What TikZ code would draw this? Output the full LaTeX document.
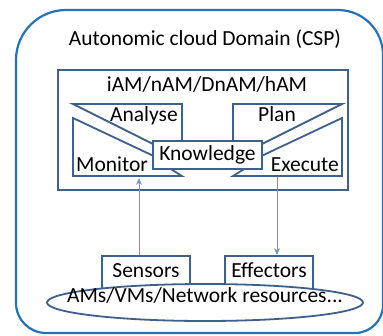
\documentclass[tikz,border=0pt]{standalone}
\usepackage{fontspec}
\setmainfont{Carlito}
\usetikzlibrary{arrows.meta,shapes.geometric}
\definecolor{domainblue}{HTML}{2473BA}
\definecolor{frameblue}{HTML}{3F5F8C}
\definecolor{linkblue}{HTML}{7196CA}
\tikzset{
  frame/.style={draw=frameblue, line width=1.8pt, line join=miter},
  mapek/.style={frame, fill=white},
  lbl/.style={inner sep=0pt, anchor=base, text=black},
  boxnode/.style={frame, fill=white, inner sep=0pt},
  link/.style={draw=linkblue, line width=1pt, -{Stealth[length=7pt,width=6pt]}}
}
\begin{document}
\begin{tikzpicture}[x=1pt,y=-1pt,font=\fontsize{21.5}{25}\selectfont]
\useasboundingbox (0,0) rectangle (383,335);

% autonomic cloud domain (y grows downwards, so the arcs turn the other way)
\draw[domainblue, line width=2.2pt]
  (16,60) arc[start angle=180, end angle=270, radius=50] -- (338,10)
  arc[start angle=270, end angle=360, radius=45] -- (383,305)
  arc[start angle=0, end angle=90, radius=28] -- (46,333)
  arc[start angle=90, end angle=180, radius=30] -- cycle;
\node[lbl] (title) at (205,45) {Autonomic cloud Domain (CSP)};

% autonomic manager frame
\draw[frame] (58,70) rectangle (348,190);
\node[lbl] (am) at (207,91) {iAM/nAM/DnAM/hAM};

% MAPE phases
\draw[mapek] (73,104) -- (182,104) -- (182,150) -- (165,150) -- cycle;
\draw[mapek] (73,118) -- (73,176) -- (182,176) -- (166,166) -- (160,159) -- cycle;
\draw[mapek] (342,104) -- (233,104) -- (233,150) -- (250,150) -- cycle;
\draw[mapek] (342,118) -- (342,176) -- (233,176) -- (249,166) -- (255,159) -- cycle;

\node[lbl, anchor=base east] (analyse) at (178,121) {Analyse};
\node[lbl] (plan) at (277,121) {Plan};
\node[lbl, anchor=base west] (monitor) at (76,171) {Monitor};
\node[lbl, anchor=base east] (execute) at (339,171) {Execute};

\node[boxnode, minimum width=109pt, minimum height=28pt] (knowledge) at (207.5,155) {Knowledge};

% sensors, effectors and managed resources
\node[boxnode, minimum width=88pt, minimum height=34pt] (sensors) at (146,273) {};
\node[boxnode, minimum width=88pt, minimum height=34pt] (effectors) at (269,273) {};
\node[lbl] (sensorstxt) at (146,277) {Sensors};
\node[lbl] (effectorstxt) at (269,277) {Effectors};

\node[ellipse, frame, fill=white, minimum width=316pt, minimum height=37pt, inner sep=0pt]
  (resources) at (205,302.5) {};
\node[lbl] (resourcestxt) at (205,302) {AMs/VMs/Network resources...};

% monitoring and effecting links
\coordinate (monin) at (139,178);
\coordinate (exeout) at (277,177);
\draw[link] (sensors.north -| monin) -- (monin);
\draw[link] (exeout) -- (exeout |- effectors.north);
\end{tikzpicture}
\end{document}
